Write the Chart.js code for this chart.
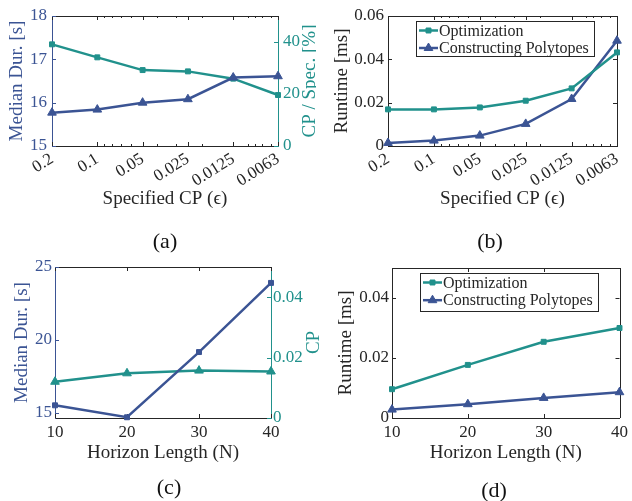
<!DOCTYPE html>
<html>
<head>
<meta charset="utf-8">
<script src="https://cdn.jsdelivr.net/npm/chart.js@4"></script>
<style>
   body { margin: 0; background: #fff; width: 632px; height: 501px; position: relative; overflow: hidden; font-family: 'Liberation Serif', 'DejaVu Serif', serif; }
   canvas { position: absolute; }
   .cap { position: absolute; font-size: 22px; color: #111; transform: translate(-50%, -50%); }
</style>
</head>
<body>
<canvas id="ca" width="316" height="225" style="left:0;top:0"></canvas>
<canvas id="cb" width="316" height="225" style="left:316px;top:0"></canvas>
<canvas id="cc" width="324" height="250" style="left:0;top:250px"></canvas>
<canvas id="cd" width="308" height="250" style="left:324px;top:250px"></canvas>
<div class="cap" style="left:165px;top:241px">(a)</div>
<div class="cap" style="left:490px;top:241px">(b)</div>
<div class="cap" style="left:169px;top:487px">(c)</div>
<div class="cap" style="left:494px;top:490px">(d)</div>
<script>
// datos
const cpValues = [0.2, 0.1, 0.05, 0.025, 0.0125, 0.0063];
const cpLabels = ['0.2', '0.1', '0.05', '0.025', '0.0125', '0.0063'];
const durA = [15.77, 15.84, 16.0, 16.08, 16.58, 16.61];
const cpSpecA = [39.1, 34.1, 29.2, 28.7, 25.9, 19.6];
const optB = [0.0169, 0.0169, 0.0178, 0.0209, 0.0266, 0.0432];
const polyB = [0.0014, 0.0025, 0.0048, 0.0102, 0.0217, 0.0486];
const horizon = [10, 20, 30, 40];
const durC = [15.52, 14.70, 19.17, 23.91];
const cpC = [0.0120, 0.0148, 0.0157, 0.0154];
const optD = [0.0096, 0.0177, 0.0254, 0.0300];
const polyD = [0.0028, 0.0046, 0.0067, 0.0086];

const ticksDurA = [15, 16, 17, 18];
const ticksCpSpecA = [0, 20, 40];
const ticksRunB = [0, 0.02, 0.04, 0.06];
const ticksHorizon = [10, 20, 30, 40];
const ticksDurC = [15, 20, 25];
const ticksCpC = [0, 0.02, 0.04];
const ticksRunD = [0, 0.02, 0.04];

const INK = '#262626';
const BLUE = '#3b5494';
const TEAL = '#21918c';
const FAM = "'Liberation Serif', 'DejaVu Serif', serif";

const pts = (xs, ys) => xs.map((x, i) => ({ x: x, y: ys[i] }));
const fixTicks = arr => s => { s.ticks = arr.map(v => ({ value: v })); };

// ticks hacia dentro, borde superior y menores log
const frame = {
   id: 'frame',
   beforeDatasetsDraw(chart, args, opts) {
      const { ctx, chartArea: a, scales } = chart;
      const px = v => Math.round(v) + 0.5;
      const line = (x1, y1, x2, y2, c) => {
         ctx.strokeStyle = c; ctx.beginPath(); ctx.moveTo(x1, y1); ctx.lineTo(x2, y2); ctx.stroke();
      };
      ctx.save();
      ctx.lineWidth = 1;
      line(a.left, px(a.top), a.right + 1, px(a.top), INK);
      if (opts.box) line(px(a.right), a.top, px(a.right), a.bottom, INK);
      const x = scales.x;
      x.ticks.forEach(t => {
         const p = px(x.getPixelForValue(t.value));
         line(p, a.bottom, p, a.bottom - 4, INK);
         line(p, a.top, p, a.top + 4, INK);
      });
      if (opts.minor) {
         for (let e = -3; e <= 0; e++) {
            for (let k = 1; k <= 9; k++) {
               const v = k * Math.pow(10, e);
               if (v < x.min || v > x.max) continue;
               if (x.ticks.some(t => Math.abs(t.value - v) / v < 0.05)) continue;
               const p = px(x.getPixelForValue(v));
               line(p, a.bottom, p, a.bottom - 2, INK);
               line(p, a.top, p, a.top + 2, INK);
            }
         }
      }
      ['y', 'y2'].forEach(id => {
         const s = scales[id];
         if (!s) return;
         const c = s.options.border.color;
         s.ticks.forEach(t => {
            const p = px(s.getPixelForValue(t.value));
            if (s.position === 'left') {
               line(a.left, p, a.left + 4, p, c);
               if (opts.box) line(a.right, p, a.right - 4, p, INK);
            } else {
               line(a.right, p, a.right - 4, p, c);
            }
         });
      });
      ctx.restore();
   }
};

// titulo del eje derecho, leido de abajo hacia arriba
const sideTitle = {
   id: 'sideTitle',
   afterDraw(chart, args, opts) {
      const s = chart.scales.y2;
      if (!s) return;
      const t = s.options.title;
      const { ctx, chartArea: a } = chart;
      ctx.save();
      ctx.translate(a.right + opts.dx, (a.top + a.bottom) / 2);
      ctx.rotate(-Math.PI / 2);
      ctx.font = '19px ' + FAM;
      ctx.fillStyle = t.color;
      ctx.textAlign = 'center';
      ctx.textBaseline = 'middle';
      ctx.fillText(t.text, 0, 0);
      ctx.restore();
   }
};

// leyenda con caja
const boxLegend = {
   id: 'boxLegend',
   afterDraw(chart, args, opts) {
      if (!opts.show) return;
      const { ctx, chartArea: a } = chart;
      const sets = chart.data.datasets;
      ctx.save();
      ctx.font = '16px ' + FAM;
      const tw = Math.max(...sets.map(d => ctx.measureText(d.label).width));
      const x0 = a.left + opts.dx, y0 = a.top + opts.dy;
      const w = Math.round(24 + tw + 4), h = opts.h;
      ctx.fillStyle = '#fff';
      ctx.fillRect(x0, y0, w, h);
      ctx.strokeStyle = INK;
      ctx.lineWidth = 1;
      ctx.strokeRect(x0 + 0.5, y0 + 0.5, w, h);
      sets.forEach((d, i) => {
         const cy = y0 + opts.first + i * opts.rowH;
         ctx.strokeStyle = d.borderColor;
         ctx.lineWidth = 2.5;
         ctx.beginPath(); ctx.moveTo(x0 + 3, cy); ctx.lineTo(x0 + 22, cy); ctx.stroke();
         ctx.fillStyle = d.borderColor;
         ctx.lineWidth = 1;
         Chart.helpers.drawPoint(ctx, { pointStyle: d.pointStyle, radius: d.pointRadius, rotation: 0, borderWidth: 1 }, x0 + 12.5, cy);
         ctx.fillStyle = INK;
         ctx.textBaseline = 'middle';
         ctx.fillText(d.label, x0 + 23, cy + 1);
      });
      ctx.restore();
   }
};

function serie(label, data, color, shape, axis) {
   return {
      label: label,
      data: data,
      yAxisID: axis || 'y',
      borderColor: color,
      backgroundColor: color,
      borderWidth: 2.5,
      pointStyle: shape,
      pointRadius: shape === 'triangle' ? 5 : 3.5,
      pointBorderWidth: 1,
      tension: 0,
      clip: false
   };
}

function yAxis(pos, color, title, min, max, ticks, width, tpad, lpad) {
   return {
      type: 'linear',
      position: pos,
      min: min,
      max: max,
      afterBuildTicks: fixTicks(ticks),
      afterFit: s => { s.width = width; },
      grid: { display: false, drawTicks: false },
      border: { display: true, color: color, width: 1 },
      ticks: { color: color, padding: lpad, font: { family: FAM, size: 17 }, callback: v => String(v) },
      title: { display: pos === 'left', text: title, color: color, padding: { top: tpad, bottom: 0 }, font: { family: FAM, size: 19 } }
   };
}

function cpAxis(height) {
   return {
      type: 'logarithmic',
      reverse: true,
      min: 0.0063,
      max: 0.2,
      afterBuildTicks: fixTicks(cpValues),
      afterFit: s => { s.height = height; },
      grid: { display: false, drawTicks: false },
      border: { display: true, color: INK, width: 1 },
      ticks: { color: INK, padding: 3, minRotation: 32, maxRotation: 32, autoSkip: false, font: { family: FAM, size: 17 }, callback: (v, i) => cpLabels[i] },
      title: { display: true, text: 'Specified CP (ϵ)', color: INK, padding: { top: 0, bottom: 14.6 }, font: { family: FAM, size: 19 } }
   };
}

function nAxis(height) {
   return {
      type: 'linear',
      min: 10,
      max: 40,
      afterBuildTicks: fixTicks(ticksHorizon),
      afterFit: s => { s.height = height; },
      grid: { display: false, drawTicks: false },
      border: { display: true, color: INK, width: 1 },
      ticks: { color: INK, padding: 4, font: { family: FAM, size: 17 } },
      title: { display: true, text: 'Horizon Length (N)', color: INK, padding: { top: 0, bottom: 36 }, font: { family: FAM, size: 19 } }
   };
}

function base(padding, scales, plug) {
   return {
      responsive: false,
      animation: false,
      devicePixelRatio: 1,
      layout: { padding: padding },
      scales: scales,
      plugins: Object.assign({ legend: { display: false }, tooltip: { enabled: false } }, plug)
   };
}

const plugs = [frame, sideTitle, boxLegend];

// (a)
new Chart(document.getElementById('ca'), {
   type: 'line',
   data: { datasets: [
      serie('Median Dur.', pts(cpValues, durA), BLUE, 'triangle', 'y'),
      serie('CP / Spec.', pts(cpValues, cpSpecA), TEAL, 'rect', 'y2')
   ] },
   options: base({ top: 16, left: 0, right: 0, bottom: 0 }, {
      x: cpAxis(79),
      y: yAxis('left', BLUE, 'Median Dur. [s]', 15, 18, ticksDurA, 52, 6, 5),
      y2: Object.assign(yAxis('right', TEAL, 'CP / Spec. [%]', 0, 50, ticksCpSpecA, 38, 0, 5))
   }, { frame: { minor: true }, sideTitle: { dx: 32 }, boxLegend: { show: false } }),
   plugins: plugs
});

// (b)
new Chart(document.getElementById('cb'), {
   type: 'line',
   data: { datasets: [
      serie('Optimization', pts(cpValues, optB), TEAL, 'rect'),
      serie('Constructing Polytopes', pts(cpValues, polyB), BLUE, 'triangle')
   ] },
   options: base({ top: 16, left: 0, right: 15, bottom: 0 }, {
      x: cpAxis(79),
      y: yAxis('left', INK, 'Runtime [ms]', 0, 0.06, ticksRunB, 72, 14.6, 4)
   }, { frame: { minor: true, box: true }, sideTitle: {}, boxLegend: { show: true, dx: 28, dy: 5, h: 35, first: 9.5, rowH: 17.5 } }),
   plugins: plugs
});

// (c)
new Chart(document.getElementById('cc'), {
   type: 'line',
   data: { datasets: [
      serie('Median Dur.', pts(horizon, durC), BLUE, 'rect', 'y'),
      serie('CP', pts(horizon, cpC), TEAL, 'triangle', 'y2')
   ] },
   options: base({ top: 17, left: 0, right: 0, bottom: 0 }, {
      x: nAxis(82),
      y: yAxis('left', BLUE, 'Median Dur. [s]', 14.65, 25, ticksDurC, 55, 10.6, 3),
      y2: yAxis('right', TEAL, 'CP', 0, 0.05, ticksCpC, 53, 0, 2)
   }, { frame: {}, sideTitle: { dx: 43 }, boxLegend: { show: false } }),
   plugins: plugs
});

// (d)
new Chart(document.getElementById('cd'), {
   type: 'line',
   data: { datasets: [
      serie('Optimization', pts(horizon, optD), TEAL, 'rect'),
      serie('Constructing Polytopes', pts(horizon, polyD), BLUE, 'triangle')
   ] },
   options: base({ top: 18, left: 0, right: 10, bottom: 0 }, {
      x: nAxis(82),
      y: yAxis('left', INK, 'Runtime [ms]', 0, 0.05, ticksRunD, 68, 10.6, 3)
   }, { frame: { box: true }, sideTitle: {}, boxLegend: { show: true, dx: 28, dy: 5, h: 38, first: 9.5, rowH: 17.7 } }),
   plugins: plugs
});
</script>
</body>
</html>
